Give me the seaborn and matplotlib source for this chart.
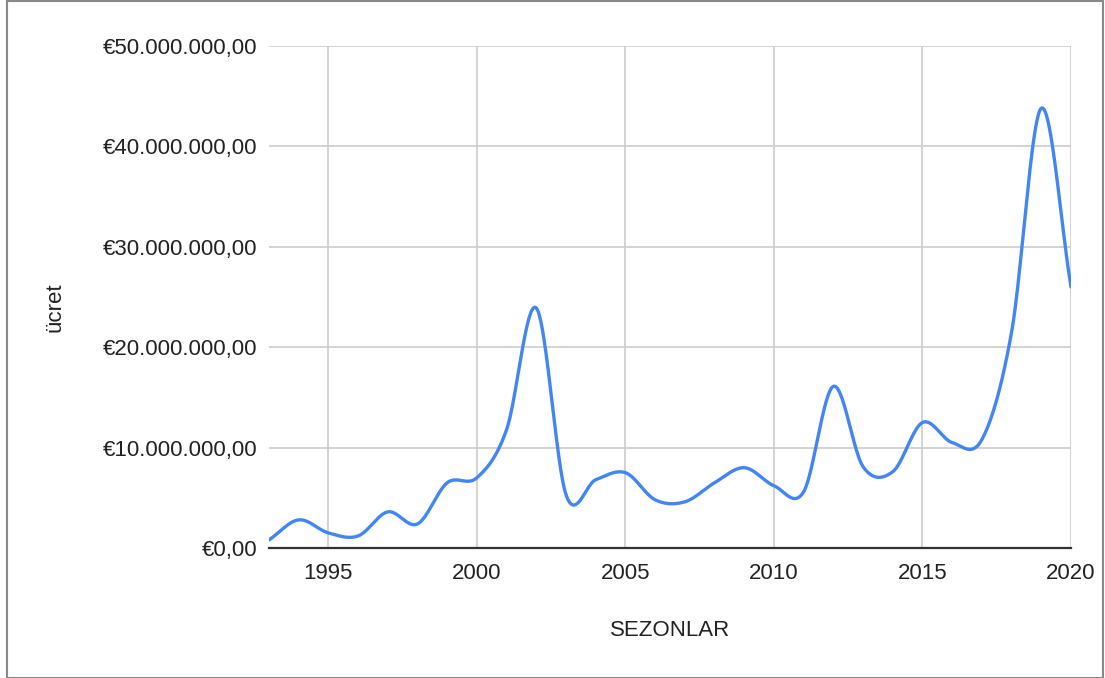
import numpy as np
import pandas as pd
import matplotlib
matplotlib.use("Agg")
import matplotlib.pyplot as plt
import seaborn as sns
from matplotlib.ticker import FuncFormatter
from matplotlib.patches import Rectangle

# data (fee per season, in euros)
seasons = list(range(1993, 2021))
fees_mio = [0.8, 2.8, 1.5, 1.2, 3.6, 2.4, 6.5, 7.0, 11.8, 23.9,
            5.3, 6.8, 7.5, 4.8, 4.6, 6.5, 8.0, 6.2, 5.6, 16.1,
            8.1, 7.6, 12.5, 10.5, 10.8, 21.5, 43.8, 26.0]
x_ticks = [1995, 2000, 2005, 2010, 2015, 2020]
y_ticks = [0, 10e6, 20e6, 30e6, 40e6, 50e6]

df = pd.DataFrame({"SEZONLAR": seasons, "ücret": np.array(fees_mio) * 1e6})


# smooth curve through the points (Catmull-Rom, like the "smooth" line option)
def catmull_rom(x, y, steps=40):
    x = np.asarray(x, float)
    y = np.asarray(y, float)
    m = np.gradient(y, x)
    m[1:-1] = (y[2:] - y[:-2]) / (x[2:] - x[:-2])
    xs, ys = [], []
    for i in range(len(x) - 1):
        t = np.linspace(0, 1, steps, endpoint=False)
        h = x[i + 1] - x[i]
        h00 = 2 * t**3 - 3 * t**2 + 1
        h10 = t**3 - 2 * t**2 + t
        h01 = -2 * t**3 + 3 * t**2
        h11 = t**3 - t**2
        xs.append(x[i] + t * h)
        ys.append(h00 * y[i] + h10 * h * m[i] + h01 * y[i + 1] + h11 * h * m[i + 1])
    xs.append([x[-1]])
    ys.append([y[-1]])
    return np.concatenate(xs), np.concatenate(ys)


sx, sy = catmull_rom(df["SEZONLAR"], df["ücret"])
smooth = pd.DataFrame({"SEZONLAR": sx, "ücret": sy})

sns.set_theme(style="whitegrid")
plt.rcParams["font.family"] = ["Liberation Sans", "DejaVu Sans"]

W, H = 1105, 678
fig = plt.figure(figsize=(W / 100, H / 100), dpi=100)
ax = fig.add_axes([269 / W, 1 - 548 / H, (1071 - 269) / W, (548 - 46) / H])

sns.lineplot(data=smooth, x="SEZONLAR", y="ücret", ax=ax,
             color="#4285F4", linewidth=2.4, sort=False)

ax.set_xlim(1993, 2020)
ax.set_ylim(0, 50e6)
ax.set_xticks(x_ticks)
ax.set_yticks(y_ticks)


def euro(v, pos):
    s = f"{v:,.2f}".replace(",", "X").replace(".", ",").replace("X", ".")
    return "€" + s


ax.yaxis.set_major_formatter(FuncFormatter(euro))
ax.grid(True, color="#cccccc", linewidth=1.2)
ax.set_facecolor("white")
for side in ["left", "top", "right"]:
    ax.spines[side].set_visible(False)
ax.spines["bottom"].set_color("#333333")
ax.spines["bottom"].set_linewidth(1.6)
ax.tick_params(axis="x", length=0, pad=10.5, labelsize=16, labelcolor="#222222")
ax.tick_params(axis="y", length=0, pad=8.5, labelsize=16, labelcolor="#222222")
ax.set_xlabel("")
ax.set_ylabel("")

fig.text(55 / W, 1 - 307 / H, "ücret", rotation=90, ha="center", va="center",
         fontsize=16, color="#222222")
fig.text(670 / W, 1 - 631 / H, "SEZONLAR", ha="center", va="center",
         fontsize=16, color="#222222")

fig.patches.append(Rectangle((7 / W, 0.5 / H), 1 - 9 / W, 1 - 1.5 / H,
                             transform=fig.transFigure, fill=False,
                             edgecolor="#888888", linewidth=1.5))

fig.savefig("out.png", dpi=100)
